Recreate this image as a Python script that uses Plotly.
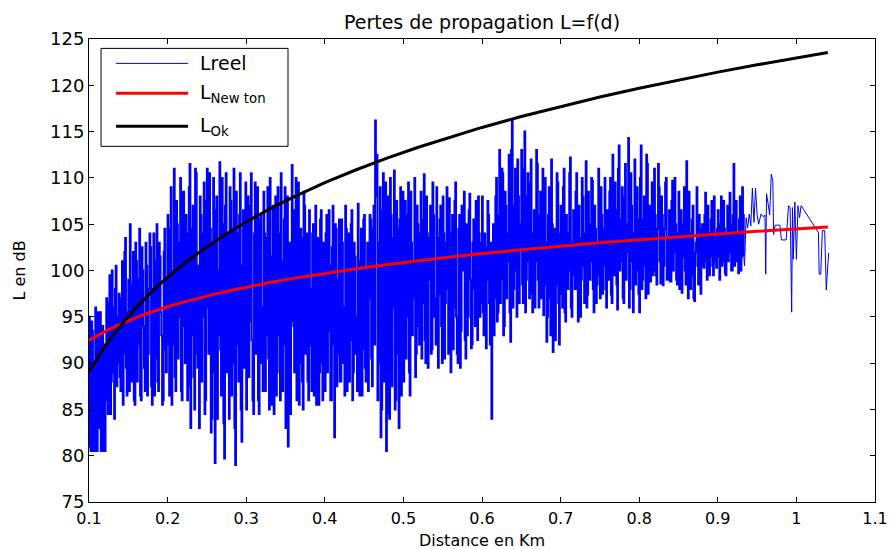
import plotly.graph_objects as go

# ---------------- data ----------------
# measured losses, dense part: two interleaved regular samplings
dense_start_a = 0.100
dense_start_b = 0.101
dense_step = 0.002
lreel_a = [
    95.0, 80.5, 93.5, 80.5, 96.0, 80.5, 89.0, 95.5, 80.5, 92.0,
    80.5, 97.0, 84.5, 99.5, 88.0, 96.0, 84.0, 100.5, 90.0, 97.5,
    87.0, 101.0, 91.0, 103.5, 86.5, 99.0, 105.0, 88.0, 102.0, 85.5,
    101.0, 92.0, 104.5, 86.0, 100.0, 89.5, 103.0, 86.5, 98.0, 102.5,
    85.5, 104.0, 90.5, 105.0, 87.0, 101.5, 93.0, 86.0, 104.5, 89.0,
    106.0, 86.5, 109.0, 92.0, 111.0, 87.0, 105.0, 95.0, 110.0, 86.0,
    108.5, 90.0, 104.0, 87.5, 111.5, 93.0, 107.0, 85.0, 110.5, 89.5,
    83.0, 106.0, 95.0, 109.5, 86.0, 111.0, 91.0, 104.5, 84.0, 110.0,
    79.2, 108.0, 93.0, 111.7, 86.5, 105.0, 79.7, 110.5, 95.0, 84.0,
    107.5, 90.0, 111.0, 79.0, 104.0, 88.0, 110.5, 81.5, 106.5, 92.0,
    85.0, 108.0, 94.5, 110.5, 86.0, 104.0, 91.0, 109.0, 84.5, 106.0,
    96.0, 108.5, 87.0, 103.5, 90.5, 110.0, 85.5, 107.0, 98.0, 86.5,
    109.0, 93.0, 110.5, 87.0, 105.5, 83.0, 108.0, 91.5, 84.5, 111.4,
    94.0, 106.5, 86.0, 109.5, 90.0, 103.5, 85.0, 107.0, 96.0, 88.0,
    106.5, 92.0, 104.0, 86.5, 107.0, 95.0, 85.5, 105.5, 90.0, 103.0,
    87.0, 106.0, 93.5, 100.5, 86.0, 107.0, 82.0, 104.5, 91.0, 105.5,
    88.0, 103.0, 96.0, 107.0, 87.0, 104.0, 92.5, 106.5, 89.0, 101.5,
    95.0, 107.2, 86.5, 104.5, 91.5, 106.0, 88.0, 103.0, 97.0, 105.5,
    87.5, 107.0, 116.2, 112.5, 90.0, 109.0, 85.0, 110.5, 94.0, 80.5,
    108.0, 84.0, 106.0, 96.0, 110.8, 86.0, 104.5, 83.0, 109.0, 92.0,
    88.0, 107.5, 95.0, 109.5, 86.5, 103.0, 97.0, 110.0, 91.0, 105.0,
    92.0, 108.5, 96.5, 110.4, 90.0, 104.0, 99.0, 107.0, 91.5, 106.0,
    97.0, 109.0, 89.5, 105.5, 94.0, 108.0, 90.5, 103.0, 98.0, 107.8,
    89.0, 106.0, 96.0, 109.5, 91.0, 104.5, 89.5, 107.0, 100.0, 92.5,
    105.0, 95.0, 108.3, 91.6, 103.0, 98.0, 107.5, 92.5, 104.0, 96.5,
    108.0, 93.0, 102.5, 99.0, 106.0, 92.0, 84.0, 105.0, 97.0, 110.0,
    95.5, 113.0, 99.0, 110.5, 94.0, 107.0, 101.0, 112.5, 92.3, 116.3,
    98.0, 111.0, 95.0, 108.0, 102.5, 113.0, 96.5, 115.0, 99.0, 110.5,
    97.0, 112.0, 95.5, 106.5, 101.0, 111.5, 96.0, 108.5, 103.0, 95.2,
    110.0, 92.3, 106.0, 97.0, 112.0, 91.2, 104.5, 98.5, 109.5, 92.0,
    107.0, 96.0, 111.0, 94.5, 104.0, 100.0, 112.2, 95.0, 106.5, 98.0,
    110.5, 94.5, 103.5, 99.0, 108.0, 96.5, 111.8, 97.4, 105.0, 101.0,
    109.7, 95.5, 104.5, 98.5, 111.0, 97.0, 106.0, 100.5, 110.0, 96.0,
    103.0, 108.5, 97.4, 112.5, 99.5, 106.5, 95.8, 113.5, 101.0, 109.0,
    96.5, 111.5, 102.0, 114.3, 98.0, 107.0, 95.5, 112.0, 100.0, 105.5,
    95.5, 113.5, 99.0, 108.0, 97.0, 111.5, 102.5, 98.8, 109.5, 100.0,
    106.0, 98.5, 111.5, 101.0, 108.0, 98.4, 104.5, 110.0, 99.0, 106.5,
    98.8, 109.7, 102.0, 105.0, 98.5, 108.5, 101.0, 97.6, 105.0, 100.0,
    111.8, 97.0, 104.0, 99.5, 107.0, 96.7, 103.0, 100.5, 106.0, 97.5,
    105.0, 100.3, 108.4, 99.0, 104.0, 101.5, 107.5, 99.5, 103.5, 100.3,
    106.5, 99.0, 108.0, 101.0, 104.5, 99.5, 107.0, 102.0, 105.0, 100.0,
    111.5, 101.0, 104.0, 99.7, 108.0, 101.5, 106.0,
]
lreel_b = [
    81.0, 94.5, 80.5, 90.0, 80.5, 95.5, 83.0, 80.5, 94.0, 80.5,
    92.0, 86.0, 96.5, 84.5, 100.0, 89.0, 98.0, 87.5, 95.0, 88.5,
    97.0, 85.5, 102.0, 89.5, 95.5, 87.0, 98.5, 92.0, 86.0, 103.0,
    88.0, 99.0, 86.5, 102.5, 94.0, 87.0, 100.5, 91.0, 104.0, 87.5,
    98.0, 86.5, 101.0, 88.0, 103.0, 95.5, 85.5, 102.0, 91.5, 99.0,
    92.0, 104.5, 85.5, 100.0, 88.5, 107.5, 90.5, 103.0, 87.0, 108.5,
    94.0, 106.0, 86.0, 109.0, 83.0, 104.5, 88.5, 111.0, 91.0, 100.5,
    108.0, 88.0, 104.0, 84.5, 107.5, 96.0, 110.5, 82.5, 103.0, 89.0,
    106.5, 84.0, 100.0, 91.5, 110.0, 83.5, 107.0, 89.0, 104.0, 109.0,
    86.5, 104.5, 83.0, 108.5, 92.0, 106.0, 85.0, 100.5, 89.5, 109.5,
    103.5, 88.5, 107.0, 92.5, 84.5, 109.5, 96.0, 86.0, 105.5, 90.0,
    87.0, 104.0, 93.0, 109.0, 85.0, 101.5, 96.5, 84.5, 108.0, 89.0,
    104.0, 86.0, 101.0, 92.0, 109.0, 89.5, 81.0, 103.0, 94.5, 106.5,
    89.0, 110.0, 92.5, 85.5, 104.5, 88.0, 108.5, 91.0, 104.0, 86.0,
    98.0, 87.0, 105.0, 93.0, 85.5, 103.5, 89.0, 106.5, 86.0, 98.5,
    104.0, 89.0, 106.5, 86.0, 102.5, 92.0, 105.0, 87.5, 99.0, 88.0,
    105.5, 90.0, 86.5, 104.5, 93.0, 88.0, 105.0, 86.0, 103.0, 91.0,
    87.0, 101.0, 92.5, 86.5, 105.5, 89.5, 100.0, 87.0, 106.0, 90.5,
    104.5, 92.0, 108.0, 86.0, 103.0, 82.0, 106.5, 88.0, 109.5, 84.5,
    96.0, 110.0, 87.5, 103.5, 85.0, 107.5, 91.0, 105.5, 86.5, 108.5,
    102.0, 90.5, 106.0, 89.0, 108.5, 93.0, 101.0, 88.5, 107.0, 94.0,
    104.0, 90.5, 105.5, 92.5, 108.0, 89.5, 103.5, 91.0, 109.5, 95.0,
    92.0, 103.5, 97.5, 107.0, 90.0, 104.0, 96.5, 109.0, 91.0, 100.5,
    104.0, 91.5, 107.5, 95.0, 90.0, 106.0, 93.5, 102.0, 108.5, 90.5,
    93.0, 106.5, 99.0, 92.0, 105.5, 94.0, 101.0, 108.0, 95.0, 103.0,
    95.5, 104.0, 91.6, 107.5, 96.5, 103.0, 100.0, 93.0, 108.0, 94.5,
    106.0, 96.5, 111.0, 93.0, 108.5, 97.0, 104.0, 95.5, 113.0, 96.0,
    107.0, 100.0, 112.0, 96.5, 105.0, 98.5, 111.0, 95.5, 108.0, 101.0,
    109.5, 97.5, 104.0, 96.0, 113.0, 99.0, 106.0, 97.0, 111.0, 98.5,
    103.0, 95.0, 109.0, 93.0, 105.0, 99.5, 92.5, 110.5, 96.5, 104.0,
    97.5, 109.0, 95.5, 106.0, 98.0, 110.5, 96.0, 103.0, 99.5, 108.5,
    98.0, 107.0, 95.0, 110.0, 100.5, 104.0, 96.0, 108.5, 99.0, 110.0,
    98.0, 107.0, 96.5, 103.0, 99.5, 109.0, 97.5, 104.5, 98.0, 106.5,
    99.0, 110.0, 96.5, 104.0, 109.5, 98.5, 111.0, 100.0, 105.5, 97.0,
    108.0, 99.0, 105.0, 96.0, 110.5, 101.0, 104.0, 98.5, 109.0, 97.5,
    110.0, 98.0, 105.5, 100.5, 112.5, 97.5, 107.0, 104.0, 99.5, 111.0,
    99.5, 104.5, 109.0, 98.6, 106.0, 100.5, 109.5, 99.0, 103.5, 98.8,
    107.5, 100.0, 110.0, 99.0, 104.0, 98.0, 106.5, 101.5, 109.0, 98.5,
    103.0, 108.5, 98.0, 105.5, 97.0, 102.0, 109.0, 98.5, 104.5, 101.0,
    100.5, 106.0, 101.0, 107.0, 99.5, 105.5, 100.5, 108.0, 101.0, 104.5,
    101.5, 105.0, 100.5, 107.5, 99.7, 104.0, 101.0, 108.4, 100.0, 106.0,
    100.5, 107.5, 101.0, 105.5, 100.0, 109.0, 101.5,
]
# measured losses, sparse tail
tail_d = [0.934, 0.936, 0.938, 0.940, 0.942, 0.944, 0.946, 0.948, 0.950, 0.952,
          0.955, 0.958, 0.960, 0.961, 0.962, 0.964, 0.966, 0.968, 0.970, 0.971,
          0.973, 0.976, 0.979, 0.981, 0.984, 0.987, 0.990, 0.992, 0.994, 0.995,
          0.996, 0.998, 1.000, 1.002, 1.004, 1.006, 1.009, 1.028, 1.029, 1.031,
          1.033, 1.036, 1.038, 1.041]
tail_L = [100.5, 105.7, 104.6, 106.1, 104.8, 108.9, 105.2, 108.9, 106.0, 105.0,
          106.1, 105.8, 106.0, 99.6, 108.3, 107.2, 106.0, 110.4, 109.7, 103.9,
          104.9, 104.9, 104.9, 103.3, 103.3, 103.3, 107.0, 106.8, 95.5, 106.8,
          101.2, 107.4, 101.2, 107.0, 105.7, 107.0, 106.6, 104.1, 99.6, 99.6,
          104.3, 104.3, 97.9, 101.9]

# model curves
model_d = [0.10, 0.11, 0.12, 0.13, 0.14, 0.15, 0.16, 0.17, 0.18, 0.19,
           0.20, 0.22, 0.24, 0.26, 0.28, 0.30, 0.33, 0.36, 0.40, 0.44,
           0.48, 0.52, 0.56, 0.60, 0.65, 0.70, 0.75, 0.80, 0.85, 0.90,
           0.95, 1.00, 1.04]
l_newton = [92.45, 92.95, 93.40, 93.82, 94.21, 94.57, 94.91, 95.23, 95.53, 95.81,
            96.08, 96.58, 97.03, 97.45, 97.84, 98.20, 98.70, 99.15, 99.71, 100.20,
            100.66, 101.08, 101.47, 101.83, 102.25, 102.63, 102.99, 103.33, 103.65, 103.95,
            104.23, 104.50, 104.70]
l_ok = [89.07, 90.47, 91.76, 92.93, 94.02, 95.04, 95.99, 96.88, 97.72, 98.52,
        99.27, 100.68, 101.96, 103.14, 104.23, 105.24, 106.65, 107.93, 109.48, 110.88,
        112.16, 113.34, 114.43, 115.45, 116.63, 117.72, 118.74, 119.69, 120.58, 121.42,
        122.21, 122.97, 123.55]

x_ticks = [0.1, 0.2, 0.3, 0.4, 0.5, 0.6, 0.7, 0.8, 0.9, 1.0, 1.1]
x_ticktext = ["0.1", "0.2", "0.3", "0.4", "0.5", "0.6", "0.7", "0.8", "0.9", "1", "1.1"]
y_ticks = [75, 80, 85, 90, 95, 100, 105, 110, 115, 120, 125]

legend_names = ["Lreel", "L<sub>New ton</sub>", "L<sub>Ok</sub>"]
colors = ["#0000ff", "#ff0000", "#000000"]
widths = [1, 3, 3]

# ---------------- figure ----------------
reel_d, reel_L = [], []
for i, (va, vb) in enumerate(zip(lreel_a, lreel_b)):
    reel_d += [round(dense_start_a + i * dense_step, 4), round(dense_start_b + i * dense_step, 4)]
    reel_L += [va, vb]

FONT = "DejaVu Sans"
fig = go.Figure()
# dense measured part drawn as MATLAB-like vertical strokes
fig.add_trace(go.Scatter(x=reel_d, y=reel_L, mode="lines", name="Lreel",
                         line=dict(color=colors[0], width=2, shape="hv"),
                         showlegend=False))
# sparse tail (continues from the last dense sample)
fig.add_trace(go.Scatter(x=reel_d[-1:] + tail_d, y=reel_L[-1:] + tail_L, mode="lines",
                         name="Lreel tail", line=dict(color=colors[0], width=1),
                         showlegend=False))
fig.add_trace(go.Scatter(x=model_d, y=l_newton, mode="lines", name="LNewton",
                         line=dict(color=colors[1], width=widths[1]), showlegend=False))
fig.add_trace(go.Scatter(x=model_d, y=l_ok, mode="lines", name="LOk",
                         line=dict(color=colors[2], width=widths[2]), showlegend=False))

# MATLAB-style legend box (paper coordinates)
shapes = [dict(type="rect", xref="paper", yref="paper", x0=0.0153, x1=0.2532,
               y0=0.7682, y1=0.9797, line=dict(color="black", width=1),
               fillcolor="white", layer="above")]
annotations = []
ys = [0.9473, 0.8826, 0.8114]
for name, c, w, yy in zip(legend_names, colors, widths, ys):
    shapes.append(dict(type="line", xref="paper", yref="paper", x0=0.0344, x1=0.126,
                       y0=yy, y1=yy, line=dict(color=c, width=w), layer="above"))
    annotations.append(dict(xref="paper", yref="paper", x=0.1387, y=yy, text=name,
                            showarrow=False, xanchor="left", yanchor="middle",
                            font=dict(family=FONT, size=19, color="black")))
# x-axis title placed below the tick labels
annotations.append(dict(xref="paper", yref="paper", x=0.5, y=-0.0821,
                        text="Distance en Km", showarrow=False, borderpad=0,
                        xanchor="center", yanchor="middle",
                        font=dict(family=FONT, size=16, color="black")))

fig.update_layout(
    width=890, height=549,
    margin=dict(l=89, r=15, t=39, b=47, autoexpand=False),
    paper_bgcolor="white", plot_bgcolor="white",
    font=dict(family=FONT, size=16, color="black"),
    title=dict(text="Pertes de propagation L=f(d)", x=0.5, xref="paper",
               y=1 - 22 / 549, yref="container", yanchor="middle",
               font=dict(family=FONT, size=19, color="black")),
    shapes=shapes, annotations=annotations,
    showlegend=False,
)
fig.update_xaxes(range=[0.1, 1.1], tickvals=x_ticks, ticktext=x_ticktext,
                 showline=True, mirror="allticks", linecolor="black", linewidth=1,
                 ticks="inside", ticklen=5, tickcolor="black", showgrid=False,
                 zeroline=False, tickfont=dict(family=FONT, size=16),
                 ticklabelstandoff=2, automargin=False)
fig.update_yaxes(range=[75, 125], tickvals=y_ticks,
                 showline=True, mirror="allticks", linecolor="black", linewidth=1,
                 ticks="inside", ticklen=5, tickcolor="black", showgrid=False,
                 zeroline=False, tickfont=dict(family=FONT, size=18),
                 automargin=False,
                 title=dict(text="L en dB", font=dict(family=FONT, size=16),
                            standoff=20))

fig.write_html("out.html")
